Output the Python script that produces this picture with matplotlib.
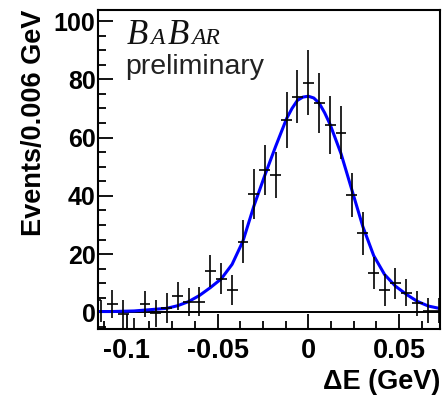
import numpy as np
import matplotlib
matplotlib.use("Agg")
import matplotlib.pyplot as plt
from matplotlib.ticker import MultipleLocator

# binned data (sWeighted events per 0.006 GeV)
bin_centers = [-0.108, -0.102, -0.096, -0.090, -0.084, -0.078, -0.072, -0.066,
               -0.060, -0.054, -0.048, -0.042, -0.036, -0.030, -0.024, -0.018,
               -0.012, -0.006, 0.000, 0.006, 0.012, 0.018, 0.024, 0.030,
               0.036, 0.042, 0.048, 0.054, 0.060, 0.066, 0.072]
events = [2.9, -0.5, -6.4, 2.9, -0.3, 1.5, 5.7, 3.6,
          3.7, 14.2, 11.5, 7.7, 24.3, 40.7, 48.9, 47.2,
          66.0, 74.0, 78.8, 72.0, 64.3, 61.7, 40.3, 27.2,
          13.4, 7.7, 10.0, 6.8, 3.2, 0.6, 0.6]
errors = [4.8, 4.8, 4.5, 4.4, 4.6, 5.3, 4.9, 4.8,
          5.0, 5.4, 5.3, 5.1, 7.4, 8.6, 8.5, 8.0,
          9.5, 9.1, 11.1, 10.3, 10.0, 9.1, 7.7, 7.4,
          5.5, 5.4, 5.4, 4.6, 4.3, 4.3, 4.3]

# partially clipped point at the left edge of the frame
edge_x = [-0.114]
edge_y = [4.3]
edge_yerr = [[7.5], [0.0]]
edge_xerr = [[0.003], [0.0]]

# fitted signal shape, sampled from the reference curve
fit_x = [-0.1157, -0.108, -0.102, -0.096, -0.090, -0.084, -0.078, -0.072,
         -0.066, -0.060, -0.054, -0.048, -0.042, -0.036, -0.030, -0.024,
         -0.018, -0.012, -0.009, -0.006, -0.003, 0.000, 0.003, 0.006,
         0.009, 0.012, 0.018, 0.024, 0.030, 0.036, 0.042, 0.048,
         0.054, 0.060, 0.066, 0.072, 0.0735]
fit_y = [0.3, 0.3, 0.4, 0.5, 0.8, 1.1, 1.4, 2.3,
         3.7, 5.8, 8.5, 11.5, 16.5, 24.5, 36.5, 47.0,
         57.0, 66.5, 70.0, 72.8, 73.9, 74.2, 73.6, 71.8,
         68.5, 64.5, 54.5, 42.0, 29.5, 19.5, 13.0, 9.0,
         6.2, 3.8, 2.2, 1.4, 1.3]

x_ticks = [-0.1, -0.05, 0.0, 0.05]
x_ticklabels = ["-0.1", "-0.05", "0", "0.05"]
y_ticks = [0, 20, 40, 60, 80, 100]

SANS = ["Liberation Sans", "DejaVu Sans"]
SERIF = ["Liberation Serif", "DejaVu Serif"]

fig = plt.figure(figsize=(4.42, 3.98), dpi=100)
ax = fig.add_axes([0.2224, 0.1726, 0.7742, 0.8023])

ax.axhline(0, color="black", lw=1.4, zorder=1)
ax.plot(fit_x, fit_y, color="#0000ff", lw=2.2, zorder=2,
        solid_joinstyle="round")
ax.errorbar(bin_centers, events, yerr=errors, xerr=0.003, fmt="none",
            ecolor="black", elinewidth=1.2, capsize=0, zorder=3)
ax.errorbar(edge_x, edge_y, yerr=edge_yerr, xerr=edge_xerr, fmt="none",
            ecolor="black", elinewidth=1.2, capsize=0, zorder=3)

ax.set_xlim(-0.1157, 0.0728)
ax.set_ylim(-5.8, 103.8)

ax.set_xticks(x_ticks)
ax.set_xticklabels(x_ticklabels)
ax.set_yticks(y_ticks)
ax.xaxis.set_minor_locator(MultipleLocator(0.0125))
ax.yaxis.set_minor_locator(MultipleLocator(5))
ax.tick_params(which="both", direction="in", top=False, right=False, width=1.3)
ax.tick_params(which="major", length=11)
ax.tick_params(which="minor", length=6)
ax.tick_params(axis="x", which="major", pad=6)
ax.tick_params(axis="y", which="major", pad=2)

for lab in ax.get_yticklabels():
    lab.set_family(SANS)
    lab.set_fontweight("bold")
    lab.set_fontsize(18)
for lab in ax.get_xticklabels():
    lab.set_family(SANS)
    lab.set_fontweight("bold")
    lab.set_fontsize(19.5)

for sp in ax.spines.values():
    sp.set_linewidth(1.5)

ax.set_ylabel("Events/0.006 GeV", family=SANS, fontweight="bold",
              fontsize=19.5, loc="top", labelpad=5)
ax.set_xlabel("\u0394E (GeV)", family=SANS, fontweight="bold",
              fontsize=19.5, loc="right", labelpad=4)

# BaBar logo in small caps italic, built piece by piece
renderer = fig.canvas.get_renderer()
x_px, base_px = 127, 398 - 44
for piece, size in [("B", 25), ("A", 17), ("B", 25), ("AR", 17)]:
    t = fig.text(x_px / 442, base_px / 398, piece, family=SERIF,
                 style="italic", fontsize=size, color="#111111",
                 ha="left", va="baseline")
    bb = t.get_window_extent(renderer)
    x_px = bb.x1 + 2.5

fig.text(125 / 442, (398 - 74) / 398, "preliminary", family=SANS,
         fontsize=20.5, color="#222222", ha="left", va="baseline")

fig.savefig("out.png", dpi=100)
